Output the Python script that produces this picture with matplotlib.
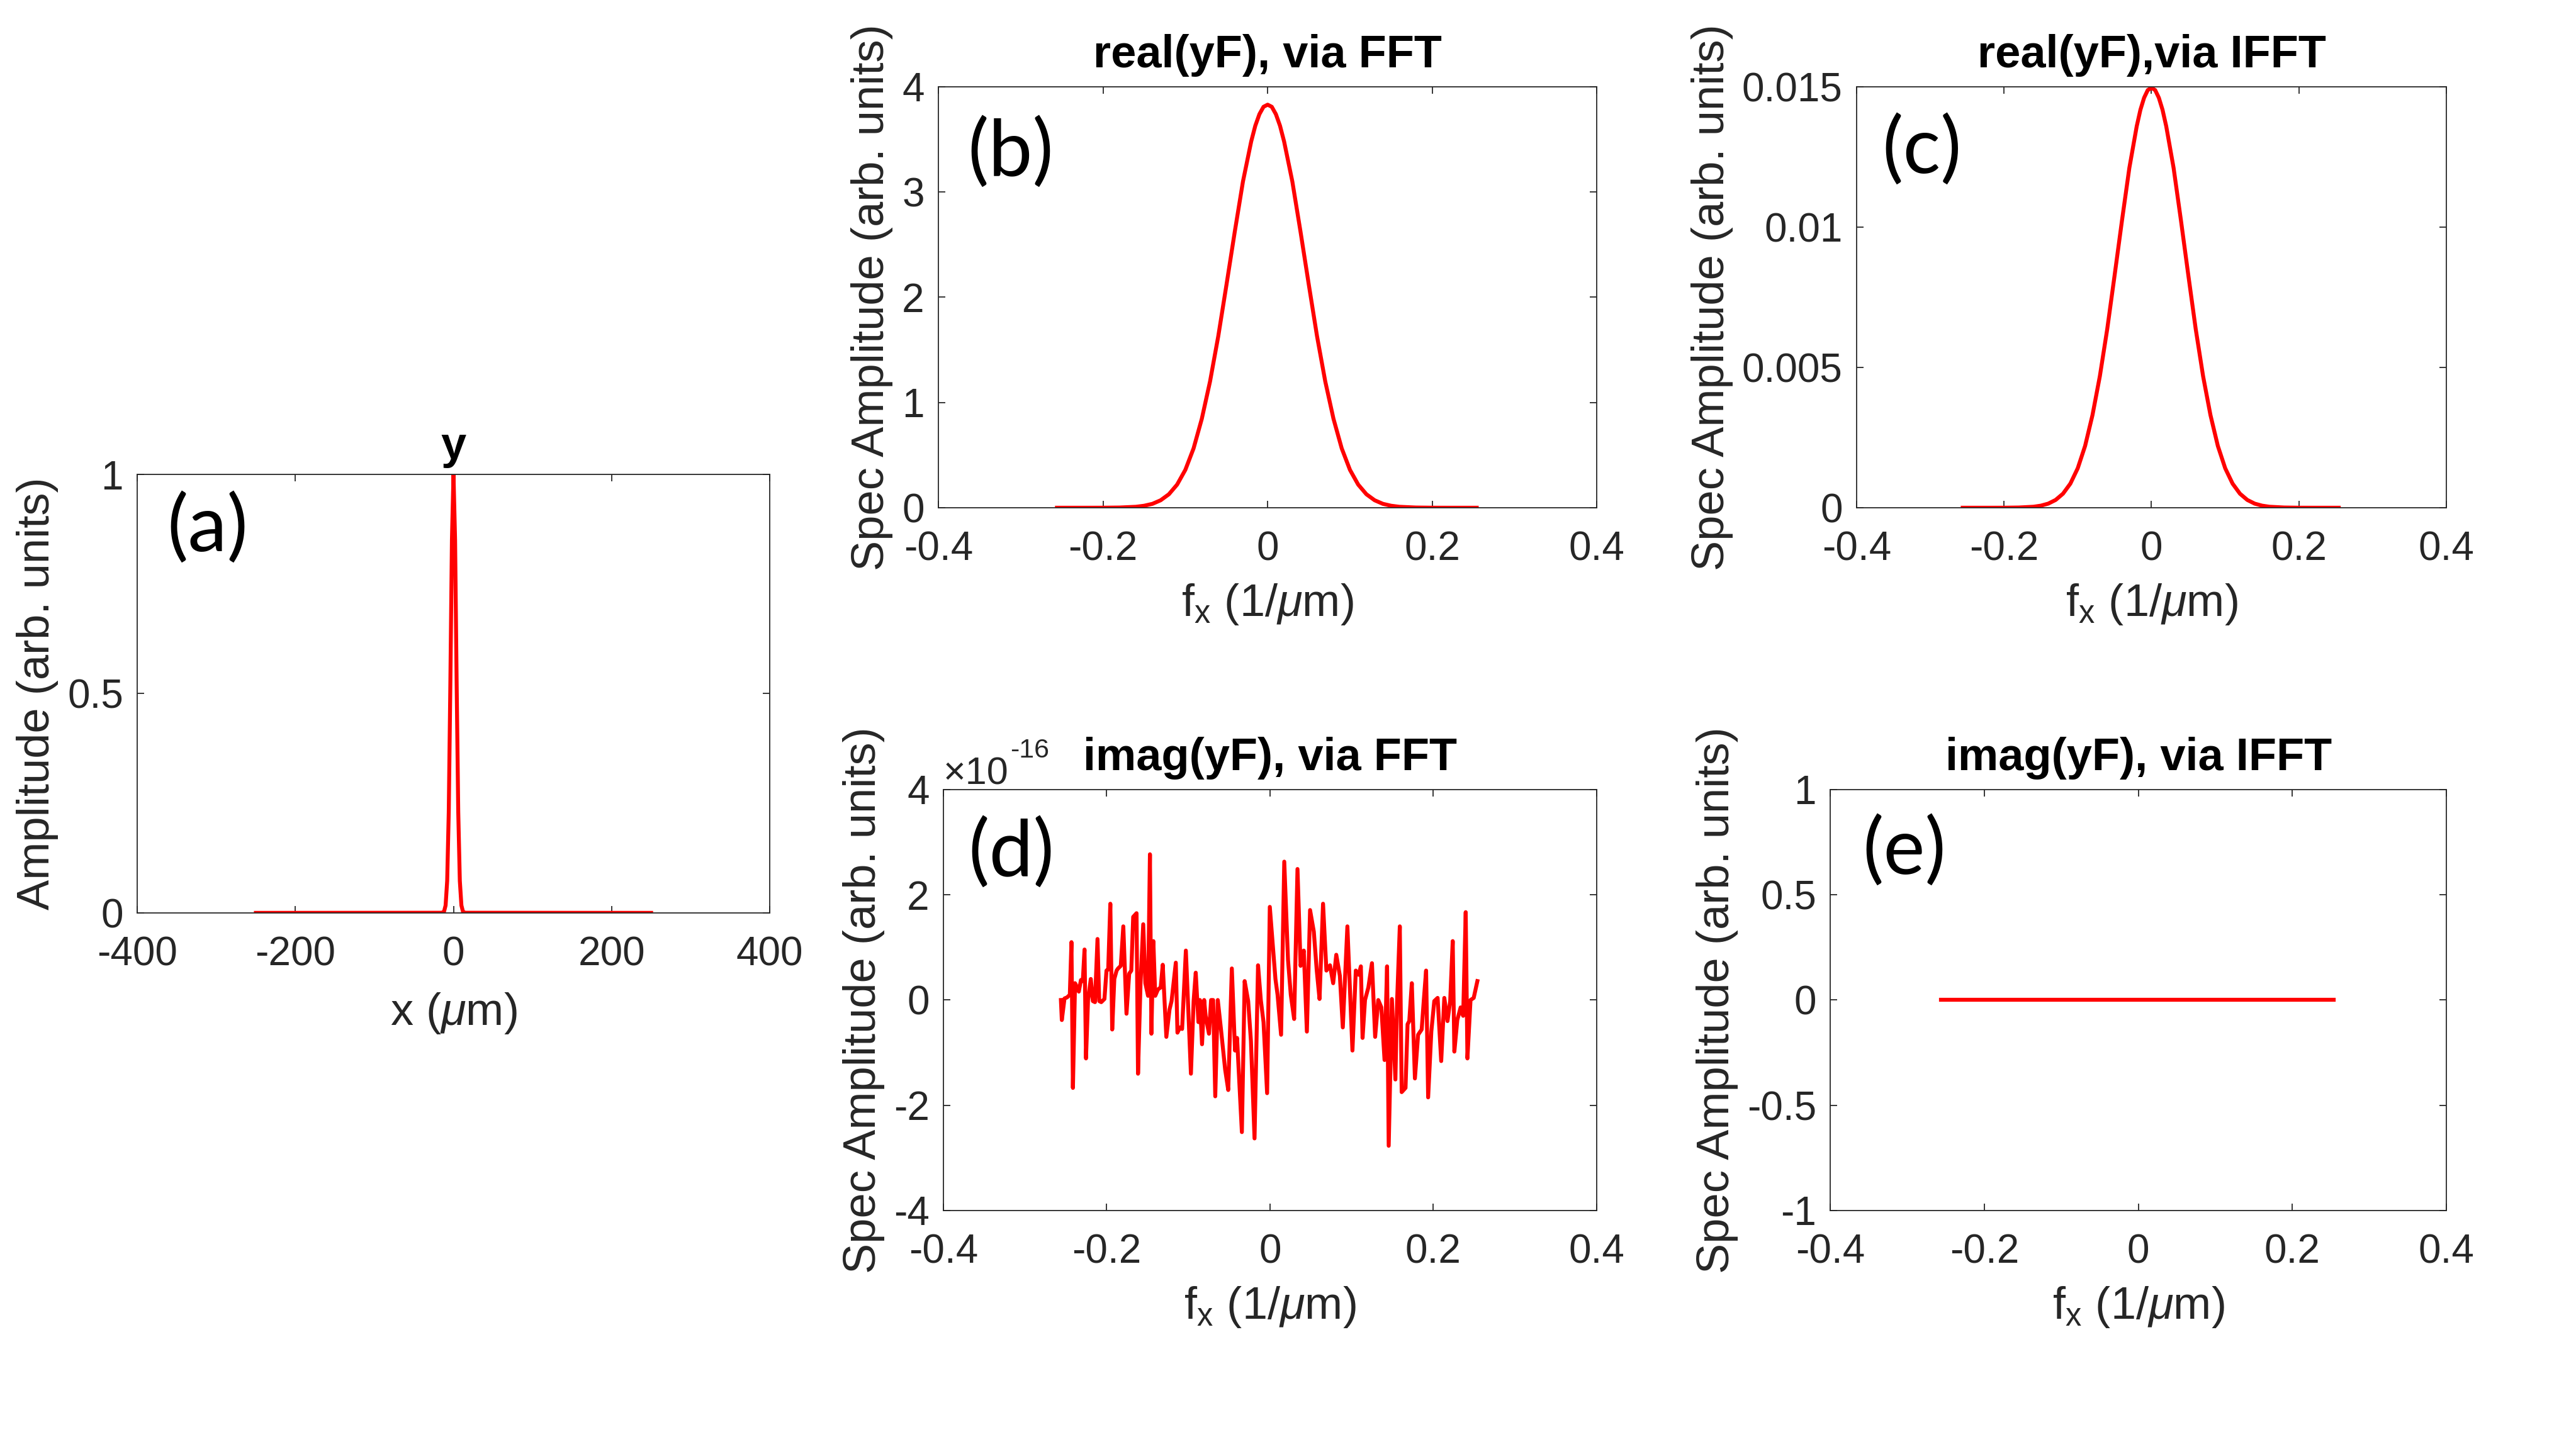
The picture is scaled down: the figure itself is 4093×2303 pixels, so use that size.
import numpy as np
import matplotlib
matplotlib.use('Agg')
import matplotlib.pyplot as plt
from matplotlib.ticker import ScalarFormatter

plt.rcParams['font.family'] = ['Liberation Sans', 'DejaVu Sans']
plt.rcParams['axes.unicode_minus'] = False
plt.rcParams['mathtext.fontset'] = 'custom'
plt.rcParams['mathtext.rm'] = 'Liberation Sans'
plt.rcParams['mathtext.it'] = 'Liberation Sans:italic'
plt.rcParams['mathtext.bf'] = 'Liberation Sans:bold'

# (a) field y in real space, x in um
x_um = [-250, -14, -12, -10, -8, -6, -4, -2, 0, 2, 4, 6, 8, 10, 12, 14, 250]
y_amp = [0, 0.0003, 0.0028, 0.017, 0.073, 0.23, 0.52, 0.85, 1.0,
         0.85, 0.52, 0.23, 0.073, 0.017, 0.0028, 0.0003, 0]

# (b), (c) real part of spectrum, fx in 1/um
fx_real = [-0.256, -0.22, -0.20, -0.18, -0.16, -0.15, -0.14, -0.13, -0.12, -0.11,
           -0.10, -0.09, -0.08, -0.07, -0.06, -0.05, -0.04, -0.03, -0.02, -0.015,
           -0.01, -0.005, 0, 0.005, 0.01, 0.015, 0.02, 0.03, 0.04, 0.05,
           0.06, 0.07, 0.08, 0.09, 0.10, 0.11, 0.12, 0.13, 0.14, 0.15,
           0.16, 0.18, 0.20, 0.22, 0.254]
real_fft = [0, 0, 0.0003, 0.002, 0.009, 0.019, 0.037, 0.071, 0.128, 0.220,
            0.360, 0.564, 0.845, 1.20, 1.63, 2.12, 2.62, 3.10, 3.48, 3.63,
            3.74, 3.81, 3.83, 3.81, 3.74, 3.63, 3.48, 3.10, 2.62, 2.12,
            1.63, 1.20, 0.845, 0.564, 0.360, 0.220, 0.128, 0.071, 0.037, 0.019,
            0.009, 0.002, 0.0003, 0, 0]
real_ifft = [0, 0, 0.000001, 0.000008, 0.000035, 0.000074, 0.000146, 0.000277, 0.000500, 0.000859,
             0.001406, 0.002203, 0.003301, 0.004688, 0.006367, 0.008281, 0.010234, 0.012109, 0.013594, 0.014180,
             0.014609, 0.014883, 0.014961, 0.014883, 0.014609, 0.014180, 0.013594, 0.012109, 0.010234, 0.008281,
             0.006367, 0.004688, 0.003301, 0.002203, 0.001406, 0.000859, 0.000500, 0.000277, 0.000146, 0.000074,
             0.000035, 0.000008, 0.000001, 0, 0]

# (d) imaginary part via FFT (units of 1e-16), read spike by spike
fx_imag = [-0.2560, -0.2549, -0.2516, -0.2485, -0.2451, -0.2431, -0.2413, -0.2387, -0.2361, -0.2341,
           -0.2315, -0.2292, -0.2271, -0.2253, -0.2228, -0.2194, -0.2169, -0.2143, -0.2112, -0.2091,
           -0.2066, -0.2027, -0.2002, -0.1981, -0.1955, -0.1932, -0.1906, -0.1878, -0.1860, -0.1827,
           -0.1796, -0.1757, -0.1724, -0.1698, -0.1675, -0.1634, -0.1616, -0.1585, -0.1552, -0.1526,
           -0.1493, -0.1470, -0.1452, -0.1428, -0.1405, -0.1372, -0.1338, -0.1313,
           -0.1269, -0.1230, -0.1205, -0.1153, -0.1133, -0.1102, -0.1076, -0.1030, -0.0968, -0.0935,
           -0.0909, -0.0876, -0.0858, -0.0832, -0.0806, -0.0788, -0.0747, -0.0721, -0.0696, -0.0670,
           -0.0639, -0.0601, -0.0549, -0.0511, -0.0467, -0.0428, -0.0403, -0.0344, -0.0310, -0.0267,
           -0.0233, -0.0189, -0.0146, -0.0112, -0.0079, -0.0035, -0.0002,
           0.0067, 0.0093, 0.0136, 0.0175, 0.0221, 0.0255, 0.0296, 0.0337, 0.0375, 0.0414,
           0.0452, 0.0491, 0.0537, 0.0573, 0.0607, 0.0650, 0.0691, 0.0735, 0.0774, 0.0812,
           0.0856, 0.0892, 0.0948, 0.1010, 0.1051, 0.1087, 0.1113, 0.1134, 0.1164, 0.1205,
           0.1249, 0.1288, 0.1326, 0.1364, 0.1403, 0.1434, 0.1454, 0.1493, 0.1536, 0.1557,
           0.1590, 0.1613, 0.1660, 0.1685, 0.1706, 0.1737, 0.1775, 0.1814, 0.1858, 0.1883,
           0.1912, 0.1937, 0.1976, 0.2012, 0.2053, 0.2097, 0.2135, 0.2174, 0.2207, 0.2238,
           0.2258, 0.2294, 0.2335, 0.2366, 0.2397, 0.2418, 0.2456, 0.2495, 0.2540]
imag_fft = [0.0, -0.38, 0.03, 0.05, 0.10, 1.10, -1.67, 0.32, 0.24, 0.16,
            0.38, 0.36, 0.96, -1.11, 0.0, 0.40, -0.02, -0.04, 1.16, -0.02,
            -0.04, 0.02, 0.56, 0.58, 1.83, -0.56, 0.40, 0.56, 0.60, 0.65,
            1.40, -0.26, 0.50, 0.56, 1.58, 1.65, -1.40, 0.32, 1.44, 0.32,
            0.08, 2.77, -0.64, 1.12, 0.08, 0.20, 0.24, 0.67,
            -0.70, -0.18, -0.02, 0.71, -0.62, -0.52, -0.55, 0.94, -1.40, -0.02,
            0.52, -0.42, 0.0, -0.84, 0.0, -0.30, -0.64, 0.0, 0.0, -1.83,
            0.0, -0.54, -1.32, -1.71, 0.60, -0.96, -0.72, -2.51, 0.36, -0.02,
            -0.78, -2.63, 0.66, 0.0, -0.42, -1.77, 1.77,
            0.40, 0.10, -0.66, 2.63, 0.76, 0.10, -0.36, 2.49, 0.65, 0.94,
            -0.60, 1.71, 1.30, 0.56, 0.02, 1.83, 0.56, 0.66, 0.32, 0.86,
            0.46, -0.52, 1.40, -0.96, 0.56, 0.48, 0.64, -0.72, 0.0, 0.24,
            0.70, -0.70, 0.0, -0.14, -1.14, 0.64, -2.77, 0.02, -1.51, -0.02,
            1.40, -1.75, -1.67, -0.46, -0.40, 0.32, -1.49, -0.66, -0.56, -0.02,
            0.56, -1.85, -0.60, -0.02, 0.04, -1.16, 0.04, -0.40, -0.02, 1.12,
            -0.98, -0.38, -0.14, -0.30, 1.67, -1.11, 0.0, 0.04, 0.36]
imag_scale = 1e-16

# (e) imaginary part via IFFT
fx_flat = [-0.256, 0.254]
imag_ifft = [0, 0]

fx_ticks = [-0.4, -0.2, 0, 0.2, 0.4]
fx_ticklabels = ['-0.4', '-0.2', '0', '0.2', '0.4']

RED = (1.0, 0.0, 0.0)
DARK = '#262626'
TICK_FS = 46
LABEL_FS = 52
LETTER_FS = 90


def style_axes(ax):
    for s in ax.spines.values():
        s.set_linewidth(1.3)
        s.set_color(DARK)
    ax.tick_params(direction='in', top=True, right=True, length=8, width=1.3,
                   color=DARK, labelsize=TICK_FS, labelcolor=DARK)
    ax.tick_params(axis='x', pad=26)
    ax.tick_params(axis='y', pad=16)


def panel_letter(ax, letter, xa, ya):
    ax.text(xa, ya, letter, transform=ax.transAxes, ha='left', va='top',
            fontsize=LETTER_FS, family=['Lato', 'DejaVu Sans'], color='black')


def fx_axis(ax):
    ax.set_xlim(-0.4, 0.4)
    ax.set_xticks(fx_ticks)
    ax.set_xticklabels(fx_ticklabels)
    ax.set_xlabel(r'f$_\mathregular{x}$ (1/$\mu$m)', fontsize=LABEL_FS,
                  color=DARK, labelpad=16)
    ax.set_ylabel('Spec Amplitude (arb. units)', fontsize=LABEL_FS,
                  color=DARK, labelpad=10)


fig = plt.figure(figsize=(40.93, 23.03), dpi=100)

# (a)
ax_a = fig.add_axes([0.0533, 0.3700, 0.2455, 0.3026])
ax_a.plot(x_um, y_amp, color=RED, lw=4.5)
ax_a.set_xlim(-400, 400)
ax_a.set_ylim(0, 1)
ax_a.set_xticks([-400, -200, 0, 200, 400])
ax_a.set_yticks([0, 0.5, 1])
ax_a.set_yticklabels(['0', '0.5', '1'])
ax_a.set_xlabel(r'x ($\mu$m)', fontsize=LABEL_FS, color=DARK, labelpad=20)
ax_a.set_ylabel('Amplitude (arb. units)', fontsize=LABEL_FS, color=DARK, labelpad=10)
ax_a.set_title('y', fontsize=LABEL_FS, fontweight='bold', pad=18)
style_axes(ax_a)
panel_letter(ax_a, '(a)', 0.047, 0.96)

# (b)
ax_b = fig.add_axes([0.3643, 0.6496, 0.2556, 0.2905])
ax_b.plot(fx_real, real_fft, color=RED, lw=4.5)
ax_b.set_ylim(0, 4)
ax_b.set_yticks([0, 1, 2, 3, 4])
fx_axis(ax_b)
ax_b.set_title('real(yF), via FFT', fontsize=LABEL_FS, fontweight='bold', pad=22)
style_axes(ax_b)
panel_letter(ax_b, '(b)', 0.044, 0.93)

# (c)
ax_c = fig.add_axes([0.7207, 0.6496, 0.2290, 0.2905])
ax_c.plot(fx_real, real_ifft, color=RED, lw=4.5)
ax_c.set_ylim(0, 0.015)
ax_c.set_yticks([0, 0.005, 0.01, 0.015])
ax_c.set_yticklabels(['0', '0.005', '0.01', '0.015'])
fx_axis(ax_c)
ax_c.set_title('real(yF),via IFFT', fontsize=LABEL_FS, fontweight='bold', pad=22)
style_axes(ax_c)
panel_letter(ax_c, '(c)', 0.043, 0.935)

# (d)
ax_d = fig.add_axes([0.3662, 0.1646, 0.2536, 0.2905])
ax_d.plot(fx_imag, np.array(imag_fft) * imag_scale, color=RED, lw=4.5)
ax_d.set_ylim(-4e-16, 4e-16)
ax_d.set_yticks([-4e-16, -2e-16, 0, 2e-16, 4e-16])
ax_d.yaxis.set_major_formatter(ScalarFormatter(useMathText=False))
fx_axis(ax_d)
ax_d.set_title('imag(yF), via FFT', fontsize=LABEL_FS, fontweight='bold', pad=22)
style_axes(ax_d)
ax_d.yaxis.get_offset_text().set_visible(False)
# multiplier drawn by hand so the exponent keeps a plain hyphen
mult = ax_d.text(0.0, 1.012, '\u00d710', transform=ax_d.transAxes, ha='left',
                 va='baseline', fontsize=44, color=DARK)
ax_d.annotate('-16', xy=(1, 0.82), xycoords=mult, xytext=(2, 0),
              textcoords='offset points', ha='left', va='bottom',
              fontsize=31, color=DARK)
panel_letter(ax_d, '(d)', 0.038, 0.935)

# (e)
ax_e = fig.add_axes([0.7105, 0.1646, 0.2392, 0.2905])
ax_e.plot(fx_flat, imag_ifft, color=RED, lw=4.5)
ax_e.set_ylim(-1, 1)
ax_e.set_yticks([-1, -0.5, 0, 0.5, 1])
ax_e.set_yticklabels(['-1', '-0.5', '0', '0.5', '1'])
fx_axis(ax_e)
ax_e.set_title('imag(yF), via IFFT', fontsize=LABEL_FS, fontweight='bold', pad=22)
style_axes(ax_e)
panel_letter(ax_e, '(e)', 0.052, 0.94)

fig.savefig('out.png', dpi=100, facecolor='white')
